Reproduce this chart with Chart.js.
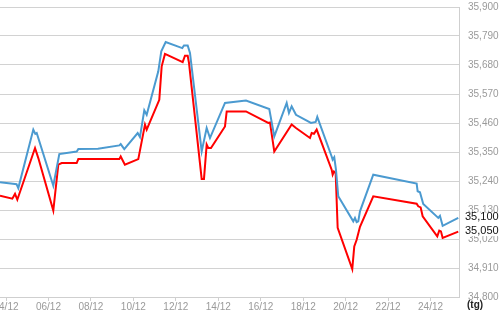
<!DOCTYPE html>
<html>
<head>
<meta charset="utf-8">
<script src="https://cdn.jsdelivr.net/npm/chart.js@4/dist/chart.umd.min.js"></script>
<style>
  html, body { margin: 0; padding: 0; background: #fff; }
  #wrap { width: 500px; height: 312px; }
</style>
</head>
<body>
<div id="wrap"><canvas id="rateChart" width="500" height="312"></canvas></div>
<script>
// day of December (fractional)
const blueDays = [3.717, 4.424, 4.495, 4.579, 5.286, 5.380, 5.446, 6.228, 6.511, 7.330, 7.406, 8.333, 9.337, 9.403, 9.572, 10.203, 10.311, 10.514, 10.627, 11.174, 11.315, 11.522, 12.304, 12.384, 12.559, 12.667, 13.218, 13.453, 13.609, 14.316, 15.305, 16.402, 16.638, 17.222, 17.330, 17.457, 17.660, 18.367, 18.588, 18.663, 19.341, 19.388, 19.464, 19.544, 19.652, 20.359, 20.439, 20.519, 20.594, 20.675, 21.301, 23.345, 23.392, 23.501, 23.656, 24.363, 24.443, 24.570, 25.305];
const blueValues = [35235, 35229, 35228, 35213, 35435, 35419, 35422, 35222, 35342, 35352, 35361, 35362, 35375, 35380, 35361, 35422, 35407, 35508, 35491, 35656, 35732, 35767, 35744, 35754, 35754, 35726, 35352, 35441, 35403, 35536, 35545, 35513, 35409, 35536, 35498, 35523, 35491, 35460, 35464, 35483, 35333, 35321, 35330, 35283, 35182, 35087, 35100, 35084, 35087, 35125, 35264, 35230, 35201, 35197, 35153, 35100, 35108, 35070, 35100];

const redDays = [3.717, 4.297, 4.424, 4.533, 5.367, 5.522, 6.228, 6.464, 6.624, 7.330, 7.406, 9.337, 9.403, 9.6, 10.232, 10.547, 10.627, 11.221, 11.333, 11.489, 12.323, 12.431, 12.559, 12.620, 13.218, 13.326, 13.453, 13.529, 13.656, 14.316, 14.396, 15.305, 16.355, 16.435, 16.638, 17.457, 17.660, 18.320, 18.400, 18.508, 18.635, 19.341, 19.388, 19.450, 19.530, 19.624, 20.312, 20.406, 20.519, 20.675, 21.301, 23.345, 23.420, 23.533, 23.628, 24.316, 24.410, 24.490, 24.570, 25.305];
const redValues = [35184, 35173, 35191, 35169, 35365, 35327, 35128, 35302, 35308, 35308, 35323, 35323, 35333, 35302, 35323, 35454, 35435, 35548, 35675, 35722, 35691, 35715, 35715, 35688, 35248, 35248, 35378, 35365, 35365, 35447, 35504, 35504, 35460, 35462, 35352, 35454, 35441, 35403, 35422, 35419, 35435, 35283, 35264, 35276, 35270, 35062, 34906, 34992, 35017, 35066, 35182, 35154, 35144, 35140, 35106, 35030, 35052, 35049, 35024, 35048];

const tickDays = [4, 6, 8, 10, 12, 14, 16, 18, 20, 22, 24];
const yTicks = [34800, 34910, 35020, 35130, 35240, 35350, 35460, 35570, 35680, 35790, 35900];
const lastLabels = ["35,100", "35,050"];
const unitLabel = "(tg)";

const fmt = (v) => v.toLocaleString("en-US");
const pad2 = (d) => (d < 10 ? "0" + d : "" + d);

const toPoints = (xs, ys) => xs.map((x, i) => ({ x: x, y: ys[i] }));

// last value boxes on the right + unit label
const extrasPlugin = {
  id: "extras",
  afterDraw(chart) {
    const ctx = chart.ctx;
    const yScale = chart.scales.y;
    const series = [blueValues, redValues];
    ctx.save();
    ctx.font = "11px 'Liberation Sans', Arial, sans-serif";
    ctx.textBaseline = "middle";
    ctx.textAlign = "left";
    series.forEach((vals, i) => {
      const y = yScale.getPixelForValue(vals[vals.length - 1]) - 0.5;
      ctx.fillStyle = "#fff";
      ctx.fillRect(463, y - 5, 37, 10);
      ctx.fillStyle = "#111";
      ctx.fillText(lastLabels[i], 465, y);
    });
    ctx.font = "bold 10px 'Liberation Sans', Arial, sans-serif";
    ctx.fillStyle = "#222";
    ctx.fillText(unitLabel, 467, 305);
    ctx.restore();
  },
};

const ctx = document.getElementById("rateChart");
new Chart(ctx, {
  type: "line",
  data: {
    datasets: [
      {
        label: "blue",
        data: toPoints(blueDays, blueValues),
        borderColor: "#4b9ad0",
        borderWidth: 2,
        pointRadius: 0,
        tension: 0,
      },
      {
        label: "red",
        data: toPoints(redDays, redValues),
        borderColor: "#ff0000",
        borderWidth: 2,
        pointRadius: 0,
        tension: 0,
      },
    ],
  },
  options: {
    responsive: false,
    animation: false,
    events: [],
    layout: { padding: { top: 7, left: 0, right: 0, bottom: 0 } },
    plugins: {
      legend: { display: false },
      tooltip: { enabled: false },
    },
    scales: {
      x: {
        type: "linear",
        min: 3.717,
        max: 25.34,
        afterBuildTicks: (scale) => {
          scale.ticks = tickDays.map((v) => ({ value: v }));
        },
        afterFit: (scale) => {
          scale.height = 15;
          scale.paddingLeft = 0;
          scale.paddingRight = 0;
        },
        grid: {
          drawOnChartArea: false,
          drawTicks: true,
          tickLength: 4,
          color: "#cfcfcf",
        },
        border: { display: true, color: "#cfcfcf", width: 1 },
        ticks: {
          autoSkip: false,
          maxRotation: 0,
          padding: 0,
          color: "#9a9a9a",
          font: { family: "'Liberation Sans', Arial, sans-serif", size: 10 },
          callback: (v) => pad2(v) + "/12",
        },
      },
      y: {
        position: "right",
        min: 34800,
        max: 35900,
        afterBuildTicks: (scale) => {
          scale.ticks = yTicks.map((v) => ({ value: v }));
        },
        afterFit: (scale) => {
          scale.width = 41;
          scale.paddingTop = 0;
          scale.paddingBottom = 0;
        },
        grid: {
          drawTicks: false,
          color: "#d2d2d2",
          lineWidth: 1,
        },
        border: { display: true, color: "#cfcfcf", width: 1 },
        ticks: {
          padding: 9,
          color: "#9a9a9a",
          font: { family: "'Liberation Sans', Arial, sans-serif", size: 10 },
          callback: (v) => fmt(v),
        },
      },
    },
  },
  plugins: [extrasPlugin],
});
</script>
</body>
</html>
